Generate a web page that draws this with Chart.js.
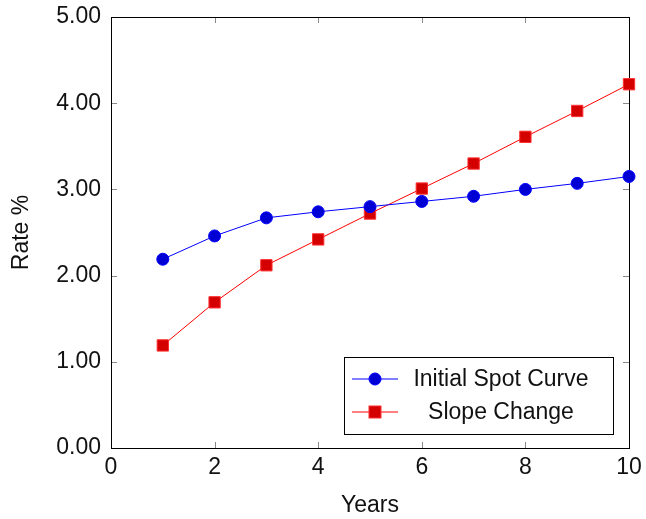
<!DOCTYPE html>
<html>
<head>
<meta charset="utf-8">
<script src="https://cdn.jsdelivr.net/npm/chart.js@4.4.0/dist/chart.umd.min.js"></script>
<style>
  html, body { margin: 0; padding: 0; background: #fff; }
  #wrap { width: 646px; height: 519px; }
</style>
</head>
<body>
<div id="wrap"><canvas id="rate-chart" width="646" height="519"></canvas></div>
<script>
// chart values
const years = [1, 2, 3, 4, 5, 6, 7, 8, 9, 10];
const spotCurve = [2.19, 2.46, 2.67, 2.74, 2.80, 2.86, 2.92, 3.00, 3.07, 3.15];
const slopeChange = [1.19, 1.69, 2.12, 2.42, 2.72, 3.01, 3.30, 3.61, 3.91, 4.22];
const xTickValues = [0, 2, 4, 6, 8, 10];
const yTickValues = [0, 1, 2, 3, 4, 5];
const seriesLabels = ['Initial Spot Curve', 'Slope Change'];

const FONT = 'Liberation Sans';

function toPoints(ys) {
    return years.map((x, i) => ({ x: x, y: ys[i] }));
}

// frame + inward tick marks, drawn under the data
const framePlugin = {
    id: 'frame',
    beforeDatasetsDraw(chart) {
        const { ctx, chartArea: a, scales } = chart;
        ctx.save();
        ctx.strokeStyle = '#888';
        ctx.lineWidth = 1;
        ctx.beginPath();
        xTickValues.forEach(v => {
            const px = Math.round(scales.x.getPixelForValue(v)) + 0.5;
            ctx.moveTo(px, a.bottom); ctx.lineTo(px, a.bottom - 6);
            ctx.moveTo(px, a.top); ctx.lineTo(px, a.top + 6);
        });
        yTickValues.forEach(v => {
            const py = Math.round(scales.y.getPixelForValue(v)) + 0.5;
            ctx.moveTo(a.left, py); ctx.lineTo(a.left + 6, py);
            ctx.moveTo(a.right, py); ctx.lineTo(a.right - 6, py);
        });
        ctx.stroke();
        ctx.strokeStyle = '#000';
        ctx.strokeRect(Math.round(a.left) + 0.5, Math.round(a.top) + 0.5,
            Math.round(a.right - a.left), Math.round(a.bottom - a.top));
        ctx.restore();
    }
};

// legend box in the lower right of the plot
const legendBoxPlugin = {
    id: 'legendBox',
    afterDraw(chart) {
        const { ctx, chartArea: a } = chart;
        const boxW = 269, boxH = 77;
        const left = a.right - 16 - boxW;
        const top = a.bottom - 14 - boxH;
        ctx.save();
        ctx.fillStyle = '#fff';
        ctx.fillRect(left, top, boxW, boxH);
        ctx.strokeStyle = '#000';
        ctx.lineWidth = 1;
        ctx.strokeRect(Math.round(left) + 0.5, Math.round(top) + 0.5, boxW, boxH);
        ctx.font = '23px "' + FONT + '"';
        ctx.textBaseline = 'middle';
        ctx.textAlign = 'center';
        chart.data.datasets.forEach((ds, i) => {
            const cy = top + 22 + i * 33;
            ctx.strokeStyle = ds.borderColor;
            ctx.beginPath();
            ctx.moveTo(left + 8, cy); ctx.lineTo(left + 54, cy);
            ctx.stroke();
            ctx.fillStyle = ds.pointBackgroundColor;
            ctx.strokeStyle = ds.pointBorderColor;
            const mx = left + 31;
            if (ds.pointStyle === 'rect') {
                ctx.fillRect(mx - 6, cy - 6, 12, 12);
                ctx.strokeRect(mx - 6, cy - 6, 12, 12);
            } else {
                ctx.beginPath();
                ctx.arc(mx, cy, 6, 0, Math.PI * 2);
                ctx.fill(); ctx.stroke();
            }
            ctx.fillStyle = '#111';
            ctx.fillText(ds.label, left + 157, cy + 1);
        });
        ctx.restore();
    }
};

const ctx = document.getElementById('rate-chart').getContext('2d');
window.rateChart = new Chart(ctx, {
    type: 'scatter',
    data: {
        datasets: [
            {
                label: seriesLabels[0],
                data: toPoints(spotCurve),
                showLine: true,
                borderColor: '#0000ff',
                borderWidth: 1,
                pointStyle: 'circle',
                pointRadius: 6,
                pointBackgroundColor: '#0000d4',
                pointBorderColor: '#0000ff',
                pointBorderWidth: 1,
                clip: false
            },
            {
                label: seriesLabels[1],
                data: toPoints(slopeChange),
                showLine: true,
                borderColor: '#ff0000',
                borderWidth: 1,
                pointStyle: 'rect',
                pointRadius: 8,
                pointBackgroundColor: '#d40000',
                pointBorderColor: '#ff3030',
                pointBorderWidth: 1,
                clip: false
            }
        ]
    },
    options: {
        responsive: false,
        animation: false,
        layout: { padding: { left: 8, right: 17, top: 17, bottom: 0 } },
        plugins: {
            legend: { display: false },
            tooltip: { enabled: false }
        },
        scales: {
            x: {
                type: 'linear',
                min: 0,
                max: 10,
                afterBuildTicks: s => { s.ticks = xTickValues.map(v => ({ value: v })); },
                afterFit: s => { s.height = 71; s.paddingLeft = 0; s.paddingRight = 0; },
                grid: { display: false, drawTicks: false },
                border: { display: false },
                ticks: {
                    padding: 6,
                    color: '#111',
                    maxRotation: 0,
                    font: { family: FONT, size: 23 }
                },
                title: {
                    display: true,
                    text: 'Years',
                    color: '#111',
                    padding: 0,
                    font: { family: FONT, size: 23 }
                }
            },
            y: {
                min: 0,
                max: 5,
                afterBuildTicks: s => { s.ticks = yTickValues.map(v => ({ value: v })); },
                afterFit: s => { s.width = 103; s.paddingTop = 0; s.paddingBottom = 0; },
                grid: { display: false, drawTicks: false },
                border: { display: false },
                ticks: {
                    padding: 10,
                    color: '#111',
                    font: { family: FONT, size: 23 },
                    callback: v => v.toFixed(2)
                },
                title: {
                    display: true,
                    text: 'Rate %',
                    color: '#111',
                    padding: 0,
                    font: { family: FONT, size: 23 }
                }
            }
        }
    },
    plugins: [framePlugin, legendBoxPlugin]
});
</script>
</body>
</html>
